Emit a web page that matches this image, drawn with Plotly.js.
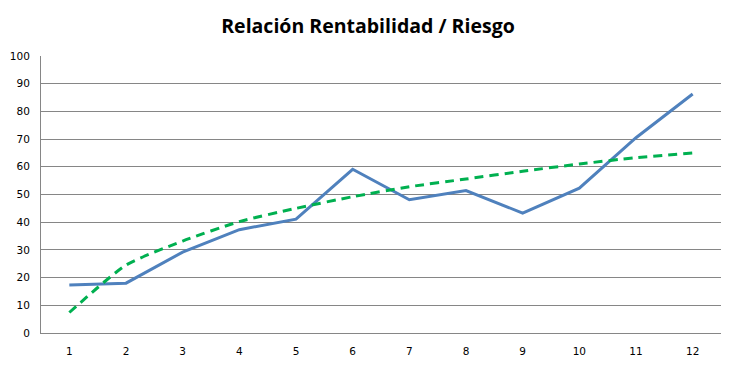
<!DOCTYPE html>
<html><head><meta charset="utf-8">
<script src="https://cdn.plot.ly/plotly-3.0.1.min.js"></script>
<style>html,body{margin:0;padding:0;background:#fff}</style>
</head><body><div id="chart" style="width:736px;height:367px"></div>
<script>
const periods = [1,2,3,4,5,6,7,8,9,10,11,12];
const rentabilidad = [17.3,18,29.2,37.3,41.1,59.1,48.1,51.4,43.3,52.3,70.5,86.3];
const tendencia = [7.4,24.5,33.2,40.2,45,49.2,52.8,55.6,58.4,61,63.3,65];
const yTicks = [0,10,20,30,40,50,60,70,80,90,100];

Plotly.newPlot('chart', [
  {x: periods, y: rentabilidad, type:'scatter', mode:'lines', line:{color:'#4F81BD', width:3}, hoverinfo:'none'},
  {x: periods, y: tendencia, type:'scatter', mode:'lines', line:{color:'#00B050', width:3, dash:'9px,6px', shape:'spline', smoothing:0.6}, hoverinfo:'none'}
], {
  width:736, height:367,
  margin:{l:41, r:15, t:56, b:34},
  paper_bgcolor:'#fff', plot_bgcolor:'#fff',
  showlegend:false,
  title:{text:'<b>Relación Rentabilidad / Riesgo</b>', font:{family:'Open Sans', size:19.5, color:'#000'}, x:0.5, xanchor:'center', y:0.929, yanchor:'middle'},
  xaxis:{range:[0.5,12.5], tickvals:periods, ticktext:periods.map(String), showgrid:false, zeroline:false,
         showline:true, linecolor:'#868686', linewidth:1, ticks:'', ticklabelstandoff:8, tickfont:{family:'DejaVu Sans', size:10.5, color:'#000'}},
  yaxis:{range:[0,100], tickvals:yTicks, showgrid:true, gridcolor:'#868686', gridwidth:1, zeroline:false,
         showline:true, linecolor:'#868686', linewidth:1, ticks:'', ticklen:0, ticklabelstandoff:8, tickfont:{family:'DejaVu Sans', size:10.5, color:'#000'}}
}, {staticPlot:true});
</script></body></html>
